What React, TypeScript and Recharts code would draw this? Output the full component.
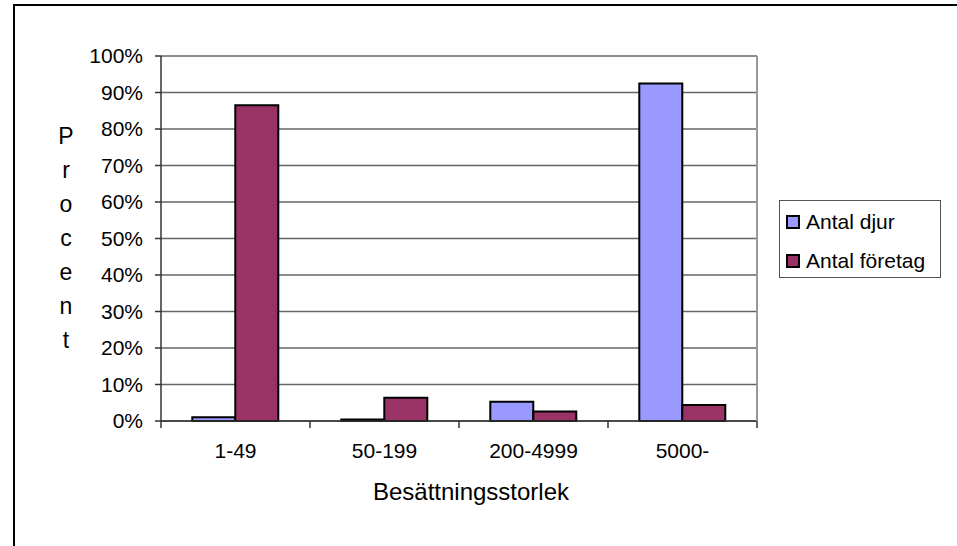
import React from 'react';
import { BarChart, Bar, XAxis, YAxis, CartesianGrid } from 'recharts';

const categories = ['1-49', '50-199', '200-4999', '5000-'];
const antalDjur = [1.0, 0.4, 5.3, 92.5];
const antalForetag = [86.5, 6.4, 2.6, 4.4];
const yTicks = [0, 10, 20, 30, 40, 50, 60, 70, 80, 90, 100];
const seriesNames = ['Antal djur', 'Antal företag'];
const seriesColors = ['#9999FF', '#993366'];
const xTitle = 'Besättningsstorlek';
const yTitle = 'Procent';

const data = categories.map((c, i) => ({
  name: c,
  djur: antalDjur[i],
  foretag: antalForetag[i],
}));

const FONT = '"Liberation Sans", Arial, sans-serif';

const XTick = (props: any) => {
  const { x, y, payload, index, visibleTicksCount, width } = props;
  const half =
    typeof payload.offset === 'number' && payload.offset > 0
      ? payload.offset
      : width / (2 * visibleTicksCount);
  return (
    <g>
      <line x1={x - half} x2={x - half} y1={y} y2={y + 7} stroke="#333" strokeWidth={1.5} />
      {index === visibleTicksCount - 1 && (
        <line x1={x + half} x2={x + half} y1={y} y2={y + 7} stroke="#333" strokeWidth={1.5} />
      )}
      <text x={x} y={y + 37} textAnchor="middle" fontSize={21} fill="#000" fontFamily={FONT}>
        {payload.value}
      </text>
    </g>
  );
};

const renderYTitle = (props: any) => {
  const vb = props.viewBox;
  const cx = vb.x + 66;
  const midY = vb.y + vb.height / 2;
  return (
    <g>
      {yTitle.split('').map((ch, i) => (
        <text key={i} x={cx} y={midY + (i - 3) * 34 + 7} textAnchor="middle" fontSize={23} fill="#000" fontFamily={FONT}>
          {ch}
        </text>
      ))}
    </g>
  );
};

const renderXTitle = (props: any) => {
  const vb = props.viewBox;
  return (
    <text x={vb.x + vb.width / 2 + 12} y={vb.y + 79} textAnchor="middle" fontSize={24} fill="#000" fontFamily={FONT}>
      {xTitle}
    </text>
  );
};

const LegendBox = () => (
  <div
    style={{
      position: 'absolute',
      left: 779,
      top: 200,
      width: 162,
      height: 78,
      boxSizing: 'border-box',
      border: '1px solid #555',
      background: '#fff',
      paddingTop: 1,
      fontFamily: FONT,
    }}
  >
    {seriesNames.map((n, i) => (
      <div key={n} style={{ display: 'flex', alignItems: 'center', height: 39 }}>
        <div
          style={{
            marginLeft: 6,
            width: 14,
            height: 14,
            boxSizing: 'border-box',
            border: '2px solid #000',
            background: seriesColors[i],
          }}
        />
        <span style={{ marginLeft: 6, fontSize: 21, color: '#000', whiteSpace: 'nowrap' }}>{n}</span>
      </div>
    ))}
  </div>
);

export default function App() {
  return (
    <div style={{ position: 'fixed', left: 0, top: 0, width: 957, height: 546, background: '#fff', overflow: 'hidden' }}>
      <div
        style={{
          position: 'absolute',
          left: 13,
          top: 4,
          width: 1000,
          height: 600,
          border: '2px solid #000',
          pointerEvents: 'none',
        }}
      />
      <div style={{ position: 'absolute', left: 0, top: 0 }}>
        <BarChart
          width={957}
          height={546}
          data={data}
          margin={{ top: 56, right: 0, bottom: 0, left: 0 }}
          barCategoryGap="21%"
          barGap={0}
          style={{ fontFamily: FONT }}
        >
          <CartesianGrid vertical={false} stroke="#666" strokeWidth={1.5} yAxisId="left" />
          <XAxis
            dataKey="name"
            height={125}
            tickLine={false}
            tickSize={0}
            tickMargin={0}
            axisLine={{ stroke: '#333', strokeWidth: 1.5 }}
            tick={<XTick />}
            interval={0}
            label={{ content: renderXTitle }}
          />
          <YAxis
            yAxisId="left"
            width={161}
            domain={[0, 100]}
            ticks={yTicks}
            interval={0}
            tickFormatter={(v: number) => `${v}%`}
            tickSize={6}
            tickMargin={12}
            tick={{ fontSize: 21, fill: '#000', fontFamily: FONT }}
            tickLine={{ stroke: '#333', strokeWidth: 1.5 }}
            axisLine={{ stroke: '#333', strokeWidth: 1.5 }}
            label={{ content: renderYTitle }}
          />
          <YAxis
            yAxisId="right"
            orientation="right"
            width={200}
            domain={[0, 100]}
            tick={false}
            tickLine={false}
            axisLine={{ stroke: '#999', strokeWidth: 2 }}
          />
          <Bar yAxisId="left" dataKey="djur" name={seriesNames[0]} fill={seriesColors[0]} stroke="#000" strokeWidth={2} isAnimationActive={false} />
          <Bar yAxisId="left" dataKey="foretag" name={seriesNames[1]} fill={seriesColors[1]} stroke="#000" strokeWidth={2} isAnimationActive={false} />
        </BarChart>
      </div>
      <LegendBox />
    </div>
  );
}
